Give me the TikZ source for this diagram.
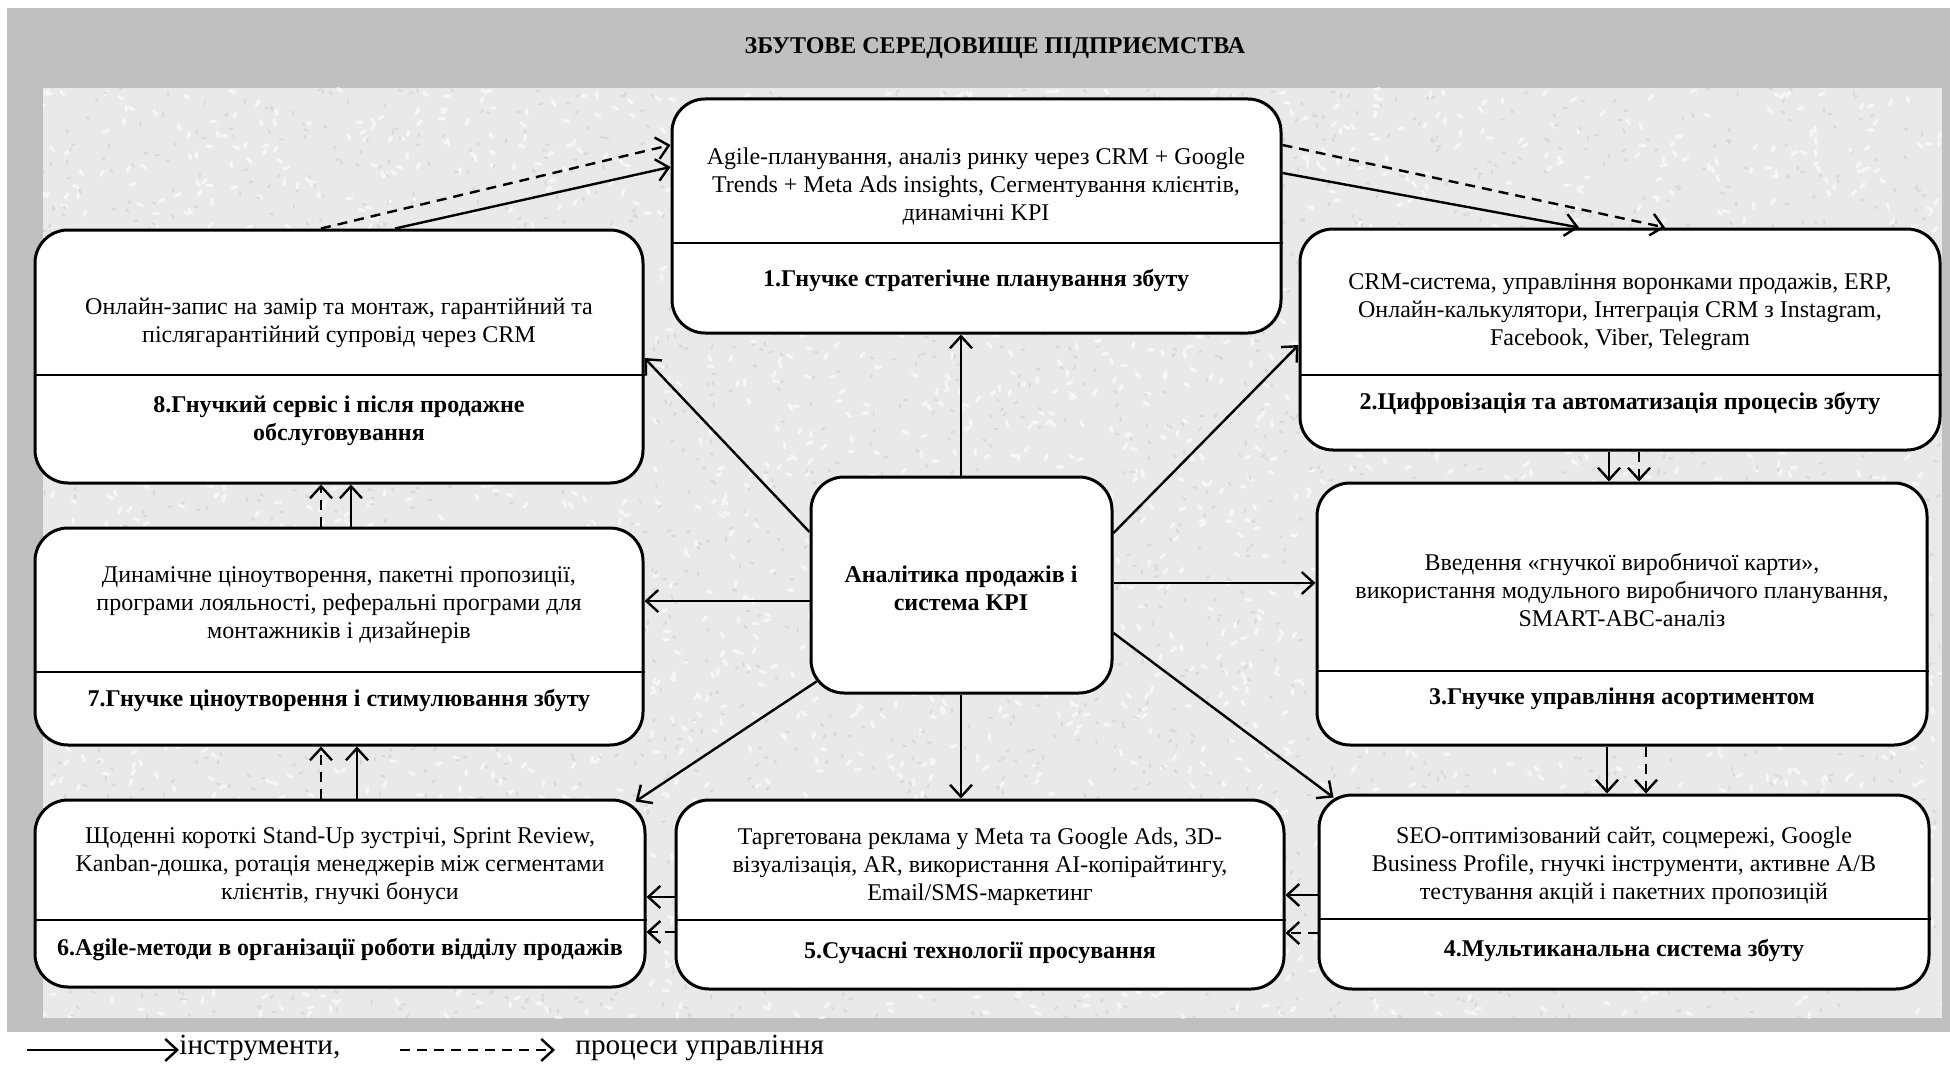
\documentclass[tikz,border=0pt]{standalone}
\usepackage{fontspec}
\setmainfont{Liberation Serif}
\usetikzlibrary{arrows.meta,fit}
\definecolor{framegray}{HTML}{C0C0C0}
\definecolor{panelgray}{HTML}{E9E9E9}
\definecolor{speckdark}{HTML}{CFCFCF}
\tikzset{
  box/.style={draw, line width=1.5pt, rounded corners=16.5pt, fill=white, inner sep=0pt},
  divider/.style={line width=0.75pt},
  bodytext/.style={align=center, font=\fontsize{12pt}{14pt}\selectfont, inner sep=0pt},
  headtext/.style={align=center, font=\bfseries\fontsize{12pt}{14pt}\selectfont, inner sep=0pt},
  tool/.style={line width=1.2pt, -{Straight Barb[length=6pt,width=11pt,line width=1.2pt]}},
  proc/.style={tool, dash pattern=on 5pt off 3.5pt},
  legendtext/.style={anchor=west, inner sep=0pt, font=\fontsize{14.6pt}{16pt}\selectfont},
}
\begin{document}
\begin{tikzpicture}[x=0.5pt,y=-0.5pt]
\useasboundingbox (0,0) rectangle (1950,1065);
\fill[white] (0,0) rectangle (1950,1065);
\fill[framegray] (7,8) rectangle (1950,1032);
\fill[panelgray] (43,88) rectangle (1942,1018);
% fine panel texture
\pgfmathsetseed{11}
\begin{scope}
\clip (43,88) rectangle (1942,1018);
\draw[white, opacity=0.6, line width=1.6pt, line cap=round]
  \foreach \i in {1,...,3000}{ ({43+rnd*1899},{88+rnd*930}) -- ++({rnd*180}:5) };
\draw[speckdark, opacity=0.6, line width=1.1pt, line cap=round]
  \foreach \i in {1,...,3000}{ ({43+rnd*1899},{88+rnd*930}) -- ++({rnd*180}:3) };
\end{scope}
\node[inner sep=0pt, font=\bfseries\fontsize{12pt}{14pt}\selectfont] (title) at (995,48) {ЗБУТОВЕ СЕРЕДОВИЩЕ ПІДПРИЄМСТВА};

% boxes
\node[box, fit={(672,99) (1281,333)}] (b1) {};
\node[box, fit={(1300,229) (1940,450)}] (b2) {};
\node[box, fit={(1317,483) (1927,745)}] (b3) {};
\node[box, fit={(1319,795) (1929,989)}] (b4) {};
\node[box, fit={(676,800) (1284,989)}] (b5) {};
\node[box, fit={(35,800) (645,987)}] (b6) {};
\node[box, fit={(35,528) (643,745)}] (b7) {};
\node[box, fit={(35,230) (643,483)}] (b8) {};
\node[box, fit={(811,477) (1112,693)}] (c) {};

% dividers
\draw[divider] (b1.west |- 0,243) -- (b1.east |- 0,243);
\draw[divider] (b2.west |- 0,375) -- (b2.east |- 0,375);
\draw[divider] (b3.west |- 0,671) -- (b3.east |- 0,671);
\draw[divider] (b4.west |- 0,919) -- (b4.east |- 0,919);
\draw[divider] (b5.west |- 0,920) -- (b5.east |- 0,920);
\draw[divider] (b6.west |- 0,920) -- (b6.east |- 0,920);
\draw[divider] (b7.west |- 0,672) -- (b7.east |- 0,672);
\draw[divider] (b8.west |- 0,375) -- (b8.east |- 0,375);

% texts
\node[bodytext] (t1) at (976,186) {Agile-планування, аналіз ринку через CRM + Google\\Trends + Meta Ads insights, Сегментування клієнтів,\\динамічні KPI};
\node[headtext] (h1) at (976,280) {1.Гнучке стратегічне планування збуту};
\node[bodytext] (t2) at (1620,312) {CRM-система, управління воронками продажів, ERP,\\Онлайн-калькулятори, Інтеграція CRM з Instagram,\\Facebook, Viber, Telegram};
\node[headtext] (h2) at (1620,403) {2.Цифровізація та автоматизація процесів збуту};
\node[bodytext] (t3) at (1622,590) {Введення «гнучкої виробничої карти»,\\використання модульного виробничого планування,\\SMART-ABC-аналіз};
\node[headtext] (h3) at (1622,699) {3.Гнучке управління асортиментом};
\node[bodytext] (t4) at (1624,866) {SEO-оптимізований сайт, соцмережі, Google\\Business Profile, гнучкі інструменти, активне A/B\\тестування акцій і пакетних пропозицій};
\node[headtext] (h4) at (1624,950) {4.Мультиканальна система збуту};
\node[bodytext] (t5) at (980,867) {Таргетована реклама у Meta та Google Ads, 3D-\\візуалізація, AR, використання AI-копірайтингу,\\Email/SMS-маркетинг};
\node[headtext] (h5) at (980,953) {5.Сучасні технології просування};
\node[bodytext] (t6) at (340,866) {Щоденні короткі Stand-Up зустрічі, Sprint Review,\\Kanban-дошка, ротація менеджерів між сегментами\\клієнтів, гнучкі бонуси};
\node[headtext] (h6) at (340,950) {6.Agile-методи в організації роботи відділу продажів};
\node[bodytext] (t7) at (339,605) {Динамічне ціноутворення, пакетні пропозиції,\\програми лояльності, реферальні програми для\\монтажників і дизайнерів};
\node[headtext] (h7) at (339,700) {7.Гнучке ціноутворення і стимулювання збуту};
\node[bodytext] (t8) at (339,323) {Онлайн-запис на замір та монтаж, гарантійний та\\післягарантійний супровід через CRM};
\node[headtext] (h8) at (339,421) {8.Гнучкий сервіс і після продажне\\обслуговування};
\node[headtext] (tc) at (961,588) {Аналітика продажів і\\система KPI};

% centre connectors
\draw[tool] (c.north -| 961,0) -- (b1.south -| 961,0);
\draw[tool] (c.south -| 961,0) -- (b5.north -| 961,0);
\draw[tool] (c.east |- 0,583) -- (b3.west |- 0,583);
\draw[tool] (c.west |- 0,601) -- (b7.east |- 0,601);
\draw[tool] (c.east |- 0,533) -- (b2.west |- 0,345);
\draw[tool] (c.west |- 0,532) -- (b8.east |- 0,358);
\draw[tool] ([shift={(7,-13)}]c.south west) -- ([shift={(-11,3)}]b6.north east);
\draw[tool] (c.east |- 0,633) -- ([shift={(16,4)}]b4.north west);

% chain connectors
\draw[proc] (b8.north -| 321,0) -- (b1.west |- 0,145);
\draw[tool] (b8.north -| 395,0) -- (b1.west |- 0,167);
\draw[proc] (b1.east |- 0,145) -- (b2.north -| 1665,0);
\draw[tool] (b1.east |- 0,173) -- (b2.north -| 1579,0);
\draw[tool] (b2.south -| 1609,0) -- (b3.north -| 1609,0);
\draw[proc] (b2.south -| 1639,0) -- (b3.north -| 1639,0);
\draw[tool] (b3.south -| 1607,0) -- (b4.north -| 1607,0);
\draw[proc] (b3.south -| 1646,0) -- (b4.north -| 1646,0);
\draw[tool] (b4.west |- 0,895) -- (b5.east |- 0,895);
\draw[proc] (b4.west |- 0,933) -- (b5.east |- 0,933);
\draw[tool] (b5.west |- 0,897) -- (b6.east |- 0,897);
\draw[proc] (b5.west |- 0,932) -- (b6.east |- 0,932);
\draw[proc] (b6.north -| 321,0) -- (b7.south -| 321,0);
\draw[tool] (b6.north -| 357,0) -- (b7.south -| 357,0);
\draw[proc] (b7.north -| 321,0) -- (b8.south -| 321,0);
\draw[tool] (b7.north -| 351,0) -- (b8.south -| 351,0);

% legend
\coordinate (l1s) at (27,1050);
\node[legendtext] (lg1) at (179,1048) {інструменти,};
\draw[tool] (l1s) -- (lg1.west |- l1s);
\coordinate (l2s) at (400,1050);
\node[legendtext] (lg2) at (575,1048) {процеси управління};
\draw[proc] (l2s) -- ([xshift=-10pt]lg2.west |- l2s);
\end{tikzpicture}
\end{document}
